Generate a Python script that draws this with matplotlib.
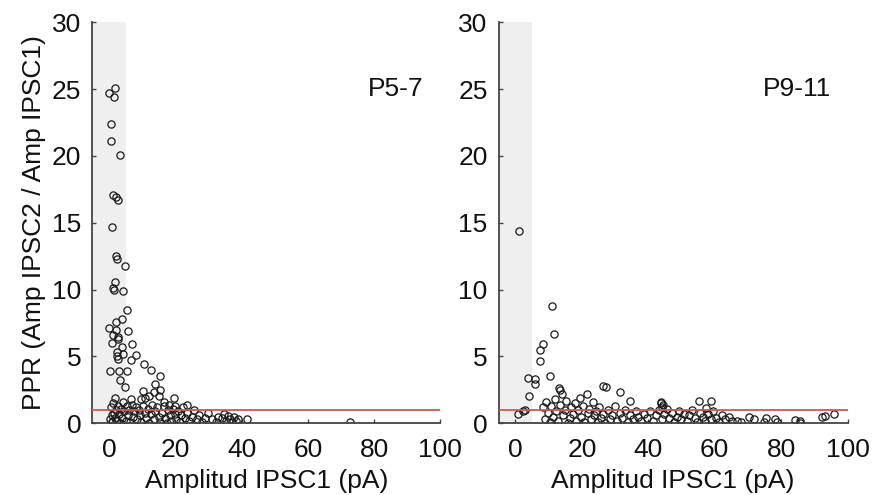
import matplotlib
matplotlib.use("Agg")
import matplotlib.pyplot as plt

plt.rcParams['font.family'] = ['Liberation Sans', 'DejaVu Sans']

# ---------------- data ----------------
p57_x = [1.9, 0.1, 1.4, 0.6, 0.6, 3.3, 1.3, 2.1, 2.8, 0.9, 2.1, 2.3, 4.9, 1.8, 1.3, 1.6, 4.1, 5.3,
         3.8, 2.1, 0.1, 2.1, 5.8, 1.1, 2.6, 2.8, 0.8, 6.8, 3.9, 2.4, 2.3, 2.6, 4.1, 8.1, 6.6, 0.4,
         2.9, 5.4, 10.6, 12.6, 3.4, 4.9, 15.4, 13.8, 15.3, 10.3, 1.8, 19.6, 23.6,
         6.6, 9.6, 10.8, 12.0, 13.5, 15.2, 16.5, 18.0, 19.8,
         0.2, 0.5, 0.8, 1.0, 1.2, 1.5, 1.8, 2.2, 2.5, 2.8, 3.1, 3.4, 3.7, 4.0, 4.3, 4.6, 5.0, 5.3,
         5.7, 6.0, 6.4, 6.8, 7.2, 7.6, 8.0, 8.5, 9.0, 9.4, 9.8, 10.3, 10.8, 11.2, 11.7, 12.2, 12.6,
         13.1, 13.6, 14.0, 14.5, 15.0, 15.5, 16.0, 16.5, 17.0, 17.4, 17.9, 18.3, 18.8, 19.3, 19.8,
         20.3, 20.8, 21.3, 21.8, 22.4, 23.0, 23.6, 24.2, 25.0, 25.8, 26.5, 27.2, 28.0, 29.0, 30.0,
         31.0, 32.2, 33.0, 34.0, 34.6, 35.2, 35.8, 36.5, 37.0, 37.6, 38.2, 39.0, 41.6, 72.7]
p57_y = [25.1, 24.7, 24.4, 22.4, 21.1, 20.1, 17.05, 16.9, 16.7, 14.7, 12.5, 12.3, 11.8, 10.6, 10.1,
         10.0, 9.9, 8.5, 7.8, 7.6, 7.1, 7.0, 6.9, 6.6, 6.45, 6.3, 6.0, 5.9, 5.7, 5.3, 5.0, 4.8, 5.2,
         5.1, 4.7, 3.9, 3.9, 3.9, 4.4, 4.0, 3.2, 2.7, 3.5, 2.9, 2.5, 2.4, 1.85, 1.9, 1.4,
         1.8, 1.8, 1.9, 2.0, 2.3, 2.0, 1.6, 1.4, 1.3,
         0.3, 1.2, 0.6, 0.1, 1.5, 0.8, 0.4, 1.0, 0.2, 1.3, 0.7, 0.05, 1.1, 0.4, 1.6, 0.9, 0.2, 1.3,
         0.6, 1.0, 0.1, 1.4, 0.5, 0.9, 1.2, 0.3, 1.0, 0.6, 0.1, 1.3, 0.8, 0.4, 1.1, 0.05, 0.7,
         1.4, 0.3, 0.9, 1.2, 0.5, 0.1, 0.8, 1.3, 0.4, 0.0, 1.0, 0.6, 0.2, 1.1, 0.7,
         0.3, 0.9, 0.1, 0.6, 1.2, 0.4, 0.8, 0.2, 0.5, 1.0, 0.3, 0.6, 0.1, 0.4, 0.8,
         0.3, 0.1, 0.5, 0.4, 0.7, 0.2, 0.55, 0.3, 0.1, 0.45, 0.2, 0.35, 0.3, 0.1]

p911_x = [1.0, 10.9, 11.5, 8.4, 7.4, 7.4, 3.9, 5.9, 5.9, 10.4, 4.2, 13.5, 13.9, 21.5, 26.5, 27.4,
          31.5, 34.5, 43.9, 44.2, 2.9, 55.3, 58.8, 57.3, 95.8, 92.3, 93.3, 84.3, 85.8, 85.8, 75.3,
          78.3, 74.8, 78.8, 70.3, 71.8, 67.8, 66.8, 0.7, 2.2, 13.2, 43.9, 44.5,
          8.2, 8.8, 9.3, 9.8, 10.3, 10.8, 11.3, 11.8, 12.3, 12.8, 13.3, 14.3, 14.8, 15.3, 15.8,
          16.3, 16.8, 17.3, 17.8, 18.3, 18.8, 19.3, 19.8, 20.3, 20.8, 21.8, 22.3, 22.8, 23.3, 23.8,
          24.3, 24.8, 25.3, 25.8, 26.3, 27.0, 27.8, 28.5, 29.2, 30.0, 30.7, 31.4, 32.2, 33.0, 33.8,
          34.6, 35.4, 36.2, 37.0, 37.8, 38.6, 39.5, 40.4, 41.3, 42.2, 43.1, 44.0, 44.8, 45.5, 46.2,
          47.0, 47.8, 48.5, 49.3, 50.0, 50.8, 51.6, 52.4, 53.2, 54.0, 54.8, 55.6, 56.4, 57.2, 58.0,
          58.8, 59.6, 60.5, 61.4, 62.3, 63.2, 64.2, 65.2]
p911_y = [14.4, 8.75, 6.7, 5.9, 5.5, 4.65, 3.4, 3.3, 2.9, 3.5, 2.0, 2.5, 2.2, 2.2, 2.8, 2.7,
          2.3, 1.7, 1.5, 1.2, 1.0, 1.7, 1.7, 1.15, 0.7, 0.5, 0.55, 0.27, 0.2, 0.0, 0.4,
          0.35, 0.1, 0.1, 0.5, 0.28, 0.1, 0.2, 0.7, 0.9, 2.6, 1.6, 1.35,
          1.2, 0.3, 1.6, 0.8, 0.1, 1.3, 0.5, 1.8, 0.9, 0.2, 1.4, 0.6, 1.0, 1.7, 0.0,
          0.4, 1.2, 0.7, 1.5, 0.2, 1.0, 1.9, 0.5, 1.3, 0.1, 0.8, 1.1, 0.3, 1.6, 0.6,
          0.9, 0.1, 1.2, 0.4, 0.7, 0.0, 1.0, 0.3, 0.6, 1.3, 0.2, 0.8, 0.4, 1.0, 0.1,
          0.6, 0.3, 0.9, 0.5, 0.2, 0.7, 0.4, 0.9, 0.2, 0.6, 1.0, 0.3, 0.7, 1.1, 0.4,
          0.8, 0.1, 0.5, 0.9, 0.3, 0.7, 0.2, 0.6, 1.0, 0.4, 0.1, 0.8, 0.5, 0.2, 0.7,
          0.3, 0.9, 0.4, 0.1, 0.6, 0.3, 0.5, 0.2]

panels = ["P5-7", "P9-11"]
x_ticks = [0, 20, 40, 60, 80, 100]
y_ticks = [0, 5, 10, 15, 20, 25, 30]
ppr_ref = 1.0
shade_range = (-5, 5)

FS = 19

# ---------------- figure ----------------
fig = plt.figure(figsize=(8.72, 4.95), dpi=100)
axes = [fig.add_axes([0.106, 0.145, 0.399, 0.81]),
        fig.add_axes([0.572, 0.145, 0.400, 0.81])]

data = [(p57_x, p57_y), (p911_x, p911_y)]
for ax, (xs, ys), name in zip(axes, data, panels):
    ax.axvspan(shade_range[0], shade_range[1], color='#efefef', lw=0, zorder=0)
    ax.plot(xs, ys, 'o', ms=5.2, mfc='none', mec='#1a1a1a', mew=0.9, zorder=2)
    ax.axhline(ppr_ref, color='#d9534f', lw=1.3, zorder=3)
    ax.set_xlim(-5, 100)
    ax.set_ylim(0, 30)
    ax.set_xticks(x_ticks)
    ax.set_yticks(y_ticks)
    for s in ['top', 'right']:
        ax.spines[s].set_visible(False)
    for s in ['left', 'bottom']:
        ax.spines[s].set_color('#444444')
        ax.spines[s].set_linewidth(1.3)
    ax.tick_params(direction='in', length=3, width=1, colors='#444444',
                   labelcolor='#111111', labelsize=FS, pad=8)
    ax.tick_params(axis='x', pad=10.5)
    ax.set_xlabel('Amplitud IPSC1 (pA)', fontsize=FS, color='#111111', labelpad=5)
    ax.text(95, 25.0, name, ha='right', va='center', fontsize=FS, color='#111111')

axes[0].set_ylabel('PPR (Amp IPSC2 / Amp IPSC1)', fontsize=FS, color='#111111', labelpad=4)

fig.savefig('out.png', dpi=100)
